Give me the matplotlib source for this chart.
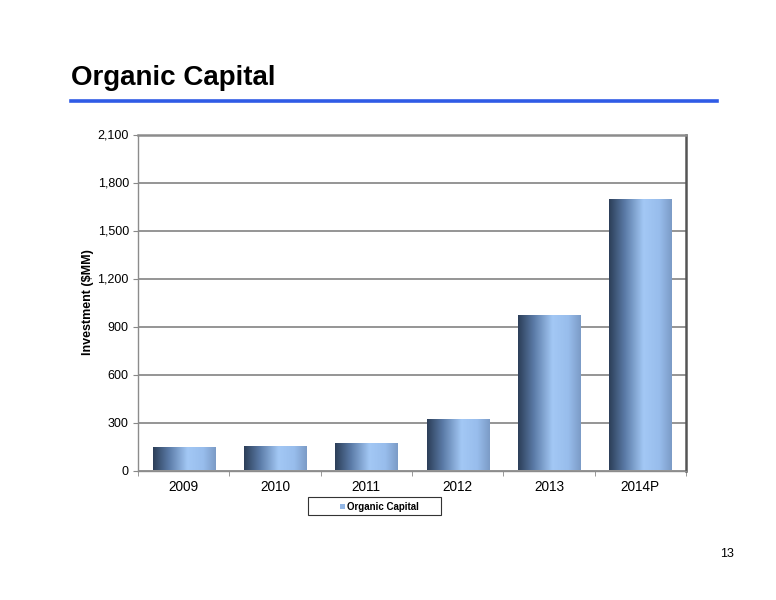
import numpy as np
import matplotlib
matplotlib.use("Agg")
import matplotlib.pyplot as plt
from matplotlib.patches import Rectangle
from matplotlib.colors import LinearSegmentedColormap

categories = ["2009", "2010", "2011", "2012", "2013", "2014P"]
values = [146, 152, 175, 325, 970, 1700]
yticks = [0, 300, 600, 900, 1200, 1500, 1800, 2100]
series_name = "Organic Capital"
title = "Organic Capital"
ylabel = "Investment ($MM)"
page_number = "13"

plt.rcParams['font.family'] = ['Liberation Sans', 'DejaVu Sans']

W, H = 776, 600
fig = plt.figure(figsize=(W / 100, H / 100), dpi=100)

# Title and rule
fig.text(71 / W, 1 - 78 / H, title, fontsize=20, fontweight='bold', va='center', ha='left', color='black')
fig.add_artist(plt.Line2D([71 / W, 717 / W], [1 - 100.5 / H, 1 - 100.5 / H], color='#2f5be6', lw=2.6,
                          transform=fig.transFigure))

ax = fig.add_axes([138 / W, 1 - 470.5 / H, (686 - 138) / W, (470.5 - 134.5) / H])

x = np.arange(len(categories))
bw = 0.68
bars = ax.bar(x, values, width=bw, color='none', edgecolor='none', zorder=3)

cmap = LinearSegmentedColormap.from_list('bar', [
    (0.0, '#2c3e58'),
    (0.25, '#5a7aa6'),
    (0.55, '#a3c8f5'),
    (0.8, '#98bdec'),
    (1.0, '#7b9bc6'),
])
grad = np.linspace(0, 1, 256).reshape(1, -1)
for b in bars:
    x0, y0 = b.get_x(), b.get_y()
    w, h = b.get_width(), b.get_height()
    im = ax.imshow(grad, cmap=cmap, aspect='auto', extent=(x0, x0 + w, y0, y0 + h),
                   zorder=3, interpolation='bicubic')
    im.set_clip_path(b)

ax.set_xlim(-0.5, len(categories) - 0.5)
ax.set_ylim(0, 2100)
ax.set_yticks(yticks)
ax.set_yticklabels([f"{v:,}" for v in yticks], fontsize=9)
ax.set_xticks(x)
ax.set_xticklabels(categories, fontsize=9.8)
ax.set_xticks(np.arange(-0.5, len(categories), 1.0), minor=True)
ax.tick_params(axis='x', which='major', length=0, pad=7)
ax.tick_params(axis='x', which='minor', length=3.6, color='#888888', direction='out')
ax.tick_params(axis='y', length=3.6, color='#888888', direction='out', pad=3)

ax.grid(axis='y', color='#8c8c8c', lw=1.3, zorder=1)
for s in ['left', 'bottom']:
    ax.spines[s].set_color('#8c8c8c')
    ax.spines[s].set_linewidth(1.0)
ax.spines['right'].set_color('#555555')
ax.spines['right'].set_linewidth(1.8)
ax.spines['top'].set_color('#8c8c8c')
ax.spines['top'].set_linewidth(1.8)

ax.set_ylabel(ylabel, fontsize=9, fontweight='bold')
ax.yaxis.set_label_coords(-0.080, 0.5)

# Legend box
fig.add_artist(Rectangle((308 / W, 1 - 515 / H), (441 - 308) / W, (515 - 497) / H,
                         transform=fig.transFigure, fill=False, edgecolor='#333333', lw=0.8))
fig.add_artist(Rectangle((339.5 / W, 1 - 509 / H), 5 / W, 5 / H, transform=fig.transFigure,
                         facecolor='#93b7e6', edgecolor='none'))
fig.text(347 / W, 1 - 506.5 / H, series_name, fontsize=7, fontweight='bold', va='center', ha='left')

fig.text(727 / W, 1 - 554 / H, page_number, fontsize=9, ha='center', va='center')

fig.savefig("out.png", dpi=100)
